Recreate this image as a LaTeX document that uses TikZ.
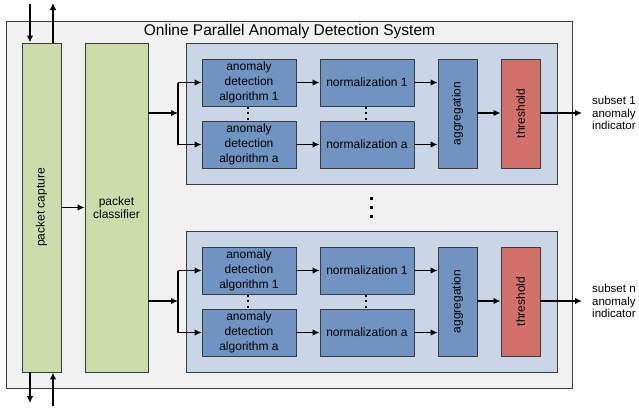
\documentclass[tikz,border=0pt]{standalone}
\usepackage{fontspec}
\setmainfont{Liberation Sans}
\usetikzlibrary{arrows.meta}
\definecolor{sysgray}{HTML}{F2F2F2}
\definecolor{pgreen}{HTML}{CDDCAB}
\definecolor{panelblue}{HTML}{C9D6E6}
\definecolor{boxblue}{HTML}{7093C1}
\definecolor{boxred}{HTML}{D2716A}
\definecolor{edge}{HTML}{3C3C3C}
\begin{document}
\begin{tikzpicture}[x=1bp,y=-1bp,
  box/.style={draw=edge, line width=0.9bp, inner sep=0pt, align=center,
    font=\fontsize{12bp}{15bp}\selectfont},
  greenbox/.style={box, fill=pgreen, minimum height=329bp},
  panel/.style={box, fill=panelblue, minimum width=371bp, minimum height=141bp},
  algbox/.style={box, fill=boxblue, minimum width=94bp, minimum height=47bp},
  tallbox/.style={box, minimum width=39bp, minimum height=109bp},
  arr/.style={line width=1.3bp, -{Latex[length=7bp,width=6.5bp]}},
  ln/.style={line width=1.3bp},
  dot/.style={fill=black, inner sep=0pt, minimum size=2bp},
  bigdot/.style={fill=black, inner sep=0pt, minimum size=3.2bp},
  outtext/.style={anchor=west, inner sep=0pt, align=left,
    font=\fontsize{11.5bp}{12.5bp}\selectfont}]
\useasboundingbox (0,0) rectangle (639,410);

% system frame and title
\node[box, fill=sysgray, minimum width=566bp, minimum height=367bp] (sys) at (289,204.5) {};
\node[font=\fontsize{15.5bp}{18bp}\selectfont] (title) at (289.5,31) {Online Parallel Anomaly Detection System};

% capture and classification stages
\node[greenbox, minimum width=39bp] (cap) at (41.5,207.5) {\rotatebox{90}{packet capture}};
\node[greenbox, minimum width=63bp, font=\fontsize{12bp}{13.5bp}\selectfont] (cls) at (116.5,207.5) {packet\\classifier};

% external packet flow
\coordinate (inA) at (30,4);
\coordinate (outA) at (53,3);
\coordinate (outB) at (30,403);
\coordinate (inB) at (53,406);
\draw[arr] (inA) -- (inA |- cap.north);
\draw[arr] (outA |- cap.north) -- (outA);
\draw[arr] (outB |- cap.south) -- (outB);
\draw[arr] (inB) -- (inB |- cap.south);
\draw[arr] (cap.east) -- (cls.west);

% one detection panel per traffic subset
\foreach \s/\dy in {1/0, n/188} {
  \node[panel] (pan\s) at (371.5,113.5+\dy) {};
  \node[algbox] (alg\s one) at (249,82.5+\dy) {anomaly\\detection\\algorithm 1};
  \node[algbox] (alg\s a) at (249,144.5+\dy) {anomaly\\detection\\algorithm a};
  \node[algbox] (nor\s one) at (367,82.5+\dy) {normalization 1};
  \node[algbox] (nor\s a) at (367,144.5+\dy) {normalization a};
  \node[tallbox, fill=boxblue] (agg\s) at (457.5,113.5+\dy) {\rotatebox{90}{aggregation}};
  \node[tallbox, fill=boxred] (thr\s) at (520.5,113.5+\dy) {\rotatebox{90}{threshold}};
  \coordinate (fork\s) at (178,113+\dy);
  \coordinate (end\s) at (582,113+\dy);
  \node[outtext] (lab\s) at (592,113+\dy) {subset \s\\anomaly\\indicator};

  \draw[arr] (cls.east |- fork\s) -- (fork\s);
  \draw[ln] (fork\s |- alg\s one.west) -- (fork\s |- alg\s a.west);
  \draw[arr] (fork\s |- alg\s one.west) -- (alg\s one.west);
  \draw[arr] (fork\s |- alg\s a.west) -- (alg\s a.west);
  \draw[arr] (alg\s one.east) -- (nor\s one.west);
  \draw[arr] (alg\s a.east) -- (nor\s a.west);
  \draw[arr] (nor\s one.east) -- (agg\s.west |- nor\s one.east);
  \draw[arr] (nor\s a.east) -- (agg\s.west |- nor\s a.east);
  \draw[arr] (agg\s.east |- fork\s) -- (thr\s.west |- fork\s);
  \draw[arr] (thr\s.east |- fork\s) -- (end\s);

  \foreach \yy in {107.5,113,118.5} {
    \node[dot] at (247.5,\yy+\dy) {};
    \node[dot] at (365.5,\yy+\dy) {};
  }
}

% panels omitted between subset 1 and subset n
\foreach \yy in {198.5,207.5,216.5}
  \node[bigdot] at (371.5,\yy) {};
\end{tikzpicture}
\end{document}
